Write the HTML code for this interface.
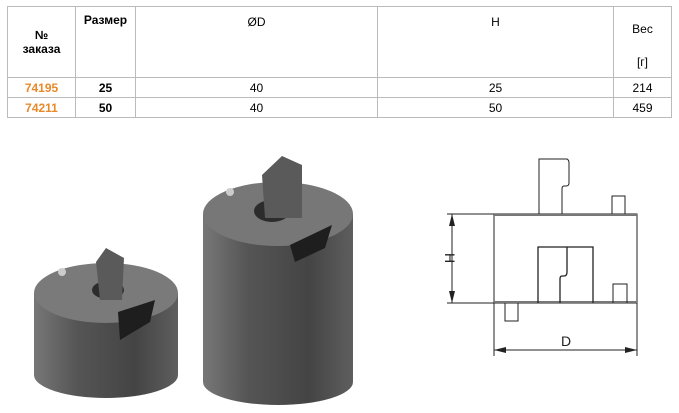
<!DOCTYPE html>
<html><head><meta charset="utf-8"><style>
body{margin:0;width:679px;height:413px;background:#fff;position:relative;overflow:hidden;font-family:"Liberation Sans",Arial,sans-serif;}
table{position:absolute;left:7px;top:6px;border-collapse:collapse;font-size:12px;}
td{border:1px solid #bbb;text-align:center;padding:0;box-sizing:border-box;}
.h td{height:71px;vertical-align:top;}
.r td{height:20px;}
.o{color:#e8892a;font-weight:bold}
.b{font-weight:bold}
</style></head><body>
<table>
<tr class="h"><td style="width:68px;vertical-align:middle" class="b">№<br>заказа</td><td style="width:60px;padding-top:6px" class="b">Размер</td><td style="width:242px;padding-top:8px">ØD</td><td style="width:236px;padding-top:8px">H</td><td style="width:58px;padding-top:14px;line-height:16px">Вес<div style="margin-top:17px">[г]</div></td></tr>
<tr class="r"><td class="o">74195</td><td class="b">25</td><td>40</td><td>25</td><td>214</td></tr>
<tr class="r"><td class="o">74211</td><td class="b">50</td><td>40</td><td>50</td><td>459</td></tr>
</table>
<svg width="679" height="413" style="position:absolute;left:0;top:0">
<defs>
<linearGradient id="g" x1="0" x2="1"><stop offset="0" stop-color="#777"/><stop offset=".3" stop-color="#555"/><stop offset=".7" stop-color="#444"/><stop offset="1" stop-color="#5e5e5e"/></linearGradient>
</defs>
<path d="M34 293 L34 375 A72 23 0 0 0 178 375 L178 293 Z" fill="url(#g)"/>
<ellipse cx="106" cy="293" rx="72" ry="30" fill="#7a7a7a"/>
<ellipse cx="108" cy="290" rx="16" ry="9" fill="#2c2c2c"/>
<path d="M96 262 L106 248 L124 258 L122 300 L100 300 Z" fill="#5a5a5a"/>
<circle cx="62" cy="272" r="4" fill="#ccc"/>
<path d="M118 312 L155 300 L150 322 L120 340 Z" fill="#1e1e1e"/>
<path d="M203 214 L203 382 A75 23 0 0 0 353 382 L353 214 Z" fill="url(#g)"/>
<ellipse cx="278" cy="214" rx="75" ry="32" fill="#777"/>
<ellipse cx="272" cy="211" rx="18" ry="11" fill="#2c2c2c"/>
<path d="M262 175 L282 156 L302 165 L302 218 L265 218 Z" fill="#5a5a5a"/>
<circle cx="230" cy="192" r="4" fill="#ccc"/>
<path d="M290 245 L332 225 L325 248 L295 262 Z" fill="#1e1e1e"/>
<g fill="none" stroke="#222" stroke-width="1">
<rect x="494" y="214" width="143" height="89"/>
<line x1="494" y1="215" x2="637" y2="215" stroke-width="2" stroke="#777"/>
<line x1="494" y1="302" x2="637" y2="302" stroke-width="2" stroke="#777"/>
<path d="M539 214 V159 H567 Q569 160 569 163 V183 Q569 186 566 186 H564 Q562 186 562 189 V214"/>
<path d="M612 214 V196 H625 V214"/>
<path d="M505 303 V321 H518 V303"/>
<path d="M538 303 V247 H593 V303 M567 247 V272 Q567 276 564 276 H562 Q560 276 560 279 V303" stroke-width="1.3"/>
<path d="M613 303 V284 H627 V303"/>
<line x1="447" y1="214" x2="494" y2="214"/>
<line x1="447" y1="303" x2="494" y2="303"/>
<line x1="452" y1="214" x2="452" y2="303"/>
<line x1="494" y1="303" x2="494" y2="356"/>
<line x1="637" y1="303" x2="637" y2="356"/>
<line x1="494" y1="350" x2="637" y2="350"/>
</g>
<g fill="#222">
<path d="M452 214 L449 226 L455 226 Z"/><path d="M452 303 L449 291 L455 291 Z"/>
<path d="M494 350 L506 347 L506 353 Z"/><path d="M637 350 L625 347 L625 353 Z"/>
</g>
<text x="566" y="346" font-size="14" font-family="Liberation Sans" fill="#222" text-anchor="middle">D</text>
<text transform="translate(445,258) rotate(90)" font-size="14" font-family="Liberation Sans" fill="#222" text-anchor="middle">H</text>
</svg>
</body></html>
